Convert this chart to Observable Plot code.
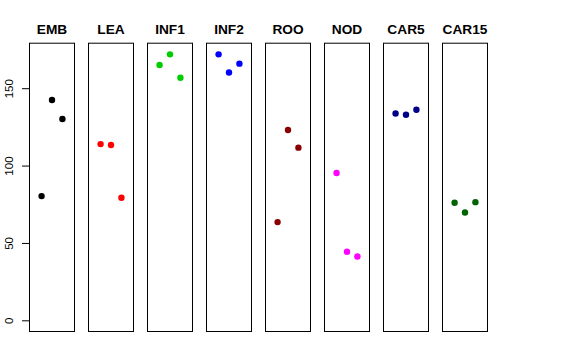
<!DOCTYPE html>
<html>
<head>
<meta charset="utf-8">
<script src="https://cdn.jsdelivr.net/npm/d3@7"></script>
<script src="https://cdn.jsdelivr.net/npm/@observablehq/plot@0.6"></script>
<style>
  html, body { margin: 0; padding: 0; background: #fff; }
</style>
</head>
<body>
<div id="chart"></div>
<script>
const categories = ["EMB", "LEA", "INF1", "INF2", "ROO", "NOD", "CAR5", "CAR15"];
const rep1 = [80.6, 114.2, 165.3, 172.2, 63.8, 95.5, 134.0, 76.3];
const rep2 = [142.7, 113.6, 172.2, 160.5, 123.3, 44.6, 133.2, 70.0];
const rep3 = [130.4, 79.5, 157.1, 166.2, 111.9, 41.6, 136.4, 76.7];
const colors = ["#000000", "#FF0000", "#00CD00", "#0000FF", "#8B0000", "#FF00FF", "#00008B", "#006400"];
const yTicks = [0, 50, 100, 150];

const reps = [rep1, rep2, rep3];
const table = [];
categories.forEach((c, i) => {
  reps.forEach((r, j) => table.push({panel: c, rep: j + 1, value: r[i]}));
});

const chart = Plot.plot({
  width: 576,
  height: 360,
  marginLeft: 28.7,
  marginRight: 88,
  marginTop: 42.7,
  marginBottom: 29,
  style: {fontFamily: "Liberation Sans, Arial, sans-serif", fontSize: "11.5px", background: "#fff", color: "#000"},
  fx: {domain: categories, paddingInner: 0.237, paddingOuter: 0, axis: null},
  x: {domain: [-0.16, 4.16], axis: null},
  y: {domain: [-6.9, 179.4], axis: null},
  color: {domain: categories, range: colors},
  marks: [
    Plot.frame({stroke: "#000", strokeWidth: 1}),
    Plot.axisY({ticks: yTicks, label: null, tickSize: 7, tickPadding: 10, tickRotate: -90, tickFormat: d => String(d), stroke: "#000", fontSize: 11.5}),
    Plot.dot(table, {fx: "panel", x: "rep", y: "value", fill: "panel", r: 3.2, stroke: null}),
    Plot.text(categories, {fx: d => d, text: d => d, frameAnchor: "top", lineAnchor: "middle", dy: -13.5, fontWeight: "bold", fontSize: 13.7, fill: "#000"})
  ]
});
document.getElementById("chart").appendChild(chart);
</script>
</body>
</html>
